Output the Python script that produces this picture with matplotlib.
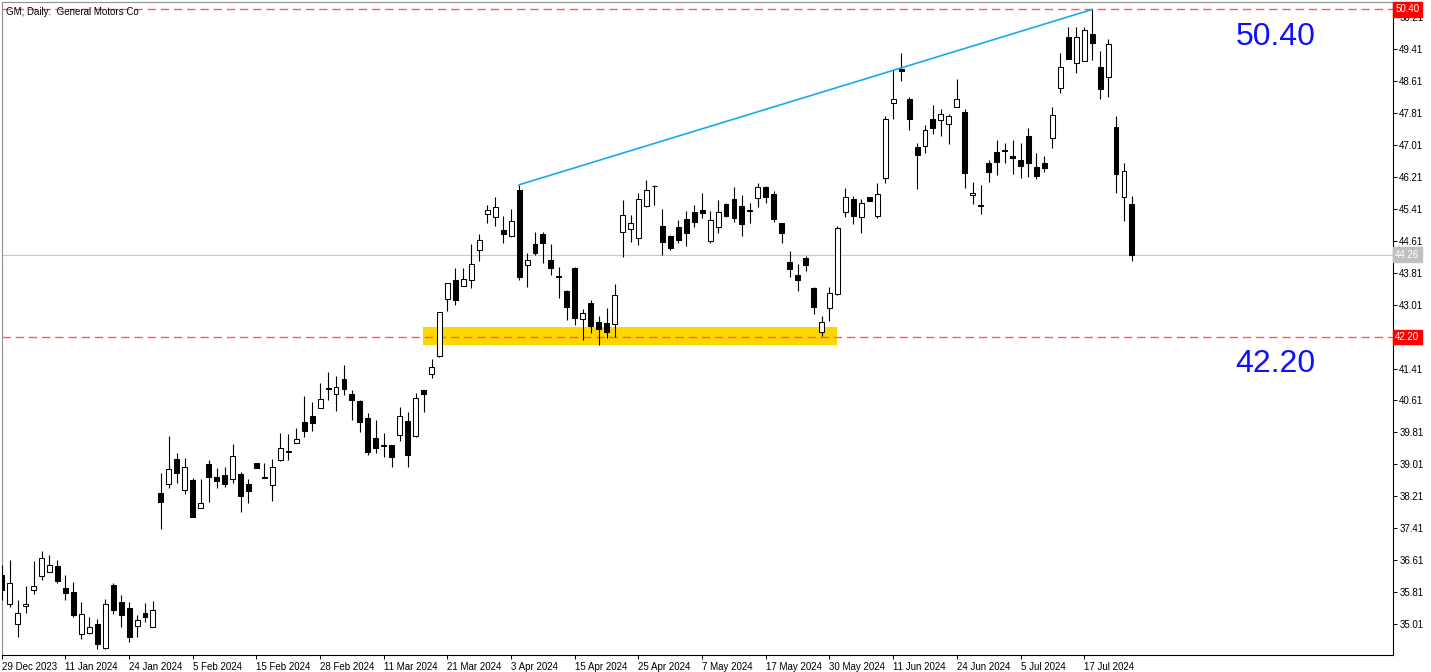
import numpy as np
import matplotlib.pyplot as plt
import matplotlib.transforms as mtransforms

plt.rcParams['font.family'] = ['Liberation Sans', 'DejaVu Sans']

# GM daily OHLC (29 Dec 2023 .. late Jul 2024)
opens = [36.24, 35.51, 35.01, 35.46, 35.87, 36.22, 36.32, 36.47, 35.91, 35.81,
         34.76, 34.78, 35.01, 34.42, 35.99, 35.57, 35.41, 34.96, 35.30, 34.95,
         38.29, 38.51, 39.15, 38.37, 38.62, 37.91, 39.02, 38.69, 38.75, 38.64,
         38.76, 38.52, 39.04, 38.66, 38.49, 39.11, 39.31, 39.55, 40.06, 40.21,
         40.43, 40.92, 40.77, 41.15, 40.77, 40.60, 40.16, 39.66, 39.49, 39.49,
         39.74, 40.09, 39.71, 40.87, 41.27, 41.72, 43.16, 43.63, 43.47, 43.62,
         44.39, 45.29, 45.20, 44.88, 44.74, 45.88, 44.00, 44.53, 44.78, 44.13,
         43.73, 43.35, 43.93, 42.65, 43.06, 42.58, 42.56, 42.53, 44.84, 44.90,
         44.69, 45.47, 45.98, 44.98, 44.73, 44.95, 45.15, 45.32, 45.38, 44.61,
         44.95, 45.52, 45.66, 45.49, 45.37, 45.67, 45.96, 45.78, 45.05, 44.08,
         43.75, 44.17, 43.43, 42.33, 42.93, 43.27, 45.34, 45.66, 45.20, 45.71,
         45.24, 46.19, 48.05, 48.91, 48.16, 46.96, 46.99, 47.65, 47.63, 47.53,
         47.95, 47.83, 45.76, 45.49, 46.55, 46.82, 46.87, 46.72, 46.63, 47.24,
         46.45, 46.55, 47.18, 48.44, 49.70, 49.05, 49.12, 49.79, 48.97, 48.70,
         47.45, 45.70, 45.52]
highs = [36.49, 36.62, 35.62, 35.97, 36.60, 36.84, 36.74, 36.62, 36.24, 36.07,
         35.57, 35.18, 35.13, 35.63, 36.03, 35.74, 35.57, 35.24, 35.53, 35.59,
         38.79, 39.72, 39.29, 39.16, 38.66, 38.64, 39.12, 38.91, 38.95, 39.52,
         38.83, 38.64, 39.05, 39.04, 39.14, 39.79, 39.77, 39.91, 40.71, 40.57,
         41.06, 41.32, 41.22, 41.50, 40.87, 40.62, 40.30, 40.12, 39.79, 39.50,
         40.44, 40.32, 40.81, 40.87, 41.64, 42.82, 43.54, 43.92, 43.92, 44.53,
         44.78, 45.50, 45.70, 45.23, 45.40, 46.01, 44.30, 44.83, 44.83, 44.53,
         43.96, 43.38, 43.95, 42.89, 43.13, 42.73, 42.93, 43.53, 45.63, 45.25,
         45.81, 46.13, 46.01, 45.40, 44.75, 45.13, 45.35, 45.50, 45.80, 45.36,
         45.63, 45.55, 45.95, 45.76, 45.55, 46.06, 45.99, 45.86, 45.06, 44.36,
         44.02, 44.23, 43.45, 42.73, 43.45, 44.98, 45.92, 45.74, 45.65, 45.71,
         46.05, 47.73, 48.89, 49.32, 48.22, 47.05, 47.51, 48.01, 47.90, 47.78,
         48.65, 47.91, 46.09, 46.01, 46.63, 47.13, 47.05, 47.13, 47.05, 47.43,
         46.80, 46.73, 47.95, 49.32, 49.95, 49.97, 49.97, 50.40, 49.37, 49.65,
         47.73, 46.55, 45.73]
lows = [35.62, 35.45, 34.70, 35.29, 35.76, 36.12, 36.32, 36.03, 35.62, 35.20,
        34.63, 34.76, 34.38, 34.38, 35.26, 34.95, 34.57, 34.70, 35.07, 34.94,
        37.39, 38.41, 38.54, 38.27, 37.69, 37.91, 38.08, 38.41, 38.45, 38.54,
        37.83, 38.04, 38.92, 38.66, 38.10, 39.10, 39.12, 39.54, 39.70, 39.85,
        40.42, 40.62, 40.35, 40.75, 40.12, 39.83, 39.24, 39.30, 39.20, 38.95,
        39.60, 38.94, 39.70, 40.32, 41.17, 41.71, 42.86, 43.00, 43.47, 43.42,
        44.09, 45.05, 44.98, 44.56, 44.71, 43.63, 43.46, 44.25, 44.06, 43.75,
        43.17, 42.63, 42.50, 42.12, 42.29, 42.00, 42.17, 42.21, 44.20, 44.59,
        44.50, 45.45, 45.50, 44.25, 44.38, 44.56, 44.48, 44.95, 45.17, 44.55,
        44.80, 45.21, 45.07, 44.74, 45.05, 45.45, 45.56, 45.09, 44.55, 43.71,
        43.36, 43.84, 42.78, 42.23, 42.61, 43.24, 45.21, 45.02, 44.80, 45.60,
        45.19, 46.06, 47.65, 48.61, 47.37, 45.91, 46.81, 47.28, 47.23, 47.03,
        47.95, 45.92, 45.52, 45.27, 46.09, 46.26, 46.56, 46.27, 46.17, 46.21,
        46.16, 46.34, 46.93, 48.32, 49.16, 48.80, 49.12, 49.14, 48.15, 48.22,
        45.81, 45.11, 44.09]
closes = [35.87, 36.05, 35.29, 35.52, 35.96, 36.66, 36.49, 36.10, 35.80, 35.25,
          35.26, 34.93, 34.51, 35.51, 35.36, 35.24, 34.70, 35.11, 35.18, 35.36,
          38.08, 38.89, 38.80, 38.94, 37.70, 38.04, 38.69, 38.59, 38.52, 39.22,
          38.22, 38.35, 38.93, 38.70, 38.94, 39.41, 39.35, 39.64, 39.85, 40.05,
          40.64, 40.89, 40.94, 40.89, 40.61, 40.08, 39.33, 39.43, 39.46, 39.19,
          40.21, 39.24, 40.68, 40.77, 41.44, 42.82, 43.54, 43.13, 43.64, 44.02,
          44.63, 45.37, 45.45, 44.79, 45.10, 43.71, 44.13, 44.31, 44.56, 43.92,
          43.70, 42.96, 42.68, 42.79, 42.48, 42.41, 42.33, 43.25, 45.25, 45.05,
          45.66, 45.88, 45.97, 44.59, 44.44, 44.64, 44.81, 45.08, 45.30, 45.13,
          45.32, 45.24, 45.19, 45.03, 45.36, 45.95, 45.71, 45.15, 44.81, 43.91,
          43.63, 44.00, 42.96, 42.57, 43.29, 44.92, 45.70, 45.23, 45.55, 45.60,
          45.77, 47.65, 48.15, 48.86, 47.67, 46.76, 47.38, 47.43, 47.78, 47.73,
          48.15, 46.31, 45.81, 45.49, 46.34, 46.59, 46.86, 46.67, 46.49, 46.56,
          46.24, 46.42, 47.77, 48.97, 49.16, 49.70, 49.89, 49.55, 48.40, 49.53,
          46.27, 46.36, 44.26]

date_labels = ['29 Dec 2023', '11 Jan 2024', '24 Jan 2024', '5 Feb 2024', '15 Feb 2024',
               '28 Feb 2024', '11 Mar 2024', '21 Mar 2024', '3 Apr 2024', '15 Apr 2024',
               '25 Apr 2024', '7 May 2024', '17 May 2024', '30 May 2024', '11 Jun 2024',
               '24 Jun 2024', '5 Jul 2024', '17 Jul 2024']
price_ticks = [50.21, 49.41, 48.61, 47.81, 47.01, 46.21, 45.41, 44.61, 43.81, 43.01,
               41.41, 40.61, 39.81, 39.01, 38.21, 37.41, 36.61, 35.81, 35.01]

level_hi = 50.40
level_lo = 42.20
last_price = 44.26
zone_bars = (52.9, 104.9)
zone_prices = (42.01, 42.44)
trend_bars = (65, 137)

o = np.array(opens); h = np.array(highs); l = np.array(lows); c = np.array(closes)
x = np.arange(len(o))
bull = c > o

fig = plt.figure(figsize=(14.31, 6.72), dpi=100)
ax = fig.add_axes([0.00105, 0.0253, 0.9724, 0.9722])
ax.set_xlim(-0.03, 174.8)
ax.set_ylim(34.238, 50.595)

# support zone
ax.fill_between(zone_bars, zone_prices[0], zone_prices[1], color='#FFD700', lw=0, zorder=1)

# levels
dash = (0, (6, 3.5))
ax.axhline(level_hi, color='#FF5A5A', lw=1.0, ls=dash, zorder=2)
ax.axhline(level_lo, color='#FF5A5A', lw=1.0, ls=dash, zorder=2)
ax.axhline(last_price, color='#C8C8C8', lw=0.8, zorder=1.5)

# candles
ax.vlines(x, l, h, color='black', lw=0.8, zorder=3)
body_lo = np.minimum(o, c)
body_h = np.maximum(np.abs(c - o), 0.012)
ax.bar(x[bull], body_h[bull], bottom=body_lo[bull], width=0.62, color='white',
       edgecolor='black', linewidth=0.75, zorder=4)
ax.bar(x[~bull], body_h[~bull], bottom=body_lo[~bull], width=0.62, color='black',
       edgecolor='black', linewidth=0.75, zorder=4)

# trend line across the highs
t0, t1 = trend_bars
ax.plot([t0, t1], [h[t0], h[t1]], color='#1AA9F0', lw=1.2, zorder=5)

# big level labels
ax.text(160, 49.71, '%.2f' % level_hi, color='#1010FF', fontsize=23, ha='center', va='center')
ax.text(160, 41.52, '%.2f' % level_lo, color='#1010FF', fontsize=23, ha='center', va='center')

ax.text(0.003, 0.992, 'GM, Daily:  General Motors Co', transform=ax.transAxes,
        fontsize=7, va='top', ha='left')

# axes styling
for side in ['left', 'top']:
    ax.spines[side].set_color('#909090')
for side in ['right', 'bottom']:
    ax.spines[side].set_color('black')
for s in ax.spines.values():
    s.set_linewidth(0.8)

ax.yaxis.tick_right()
ax.set_yticks(price_ticks)
ax.set_yticklabels(['%.2f' % p for p in price_ticks])
ax.tick_params(axis='y', length=3, width=0.7, pad=1.5, labelsize=7)
ax.set_xticks(np.arange(0, len(date_labels) * 8, 8))
ax.set_xticklabels(date_labels)
ax.tick_params(axis='x', length=3, width=0.7, pad=2, labelsize=7)
for lab in ax.get_xticklabels():
    lab.set_horizontalalignment('left')

# price boxes on the right scale
trans = mtransforms.blended_transform_factory(ax.transAxes, ax.transData)
for val, col in [(level_hi, '#FF0000'), (last_price, '#C0C0C0'), (level_lo, '#FF0000')]:
    ax.text(1.0016, val, '%.2f' % val, transform=trans, color='white', fontsize=7,
            va='center', ha='left', clip_on=False, zorder=10,
            bbox=dict(facecolor=col, edgecolor=col, boxstyle='square,pad=0.25'))

fig.savefig('out.png', dpi=100)
